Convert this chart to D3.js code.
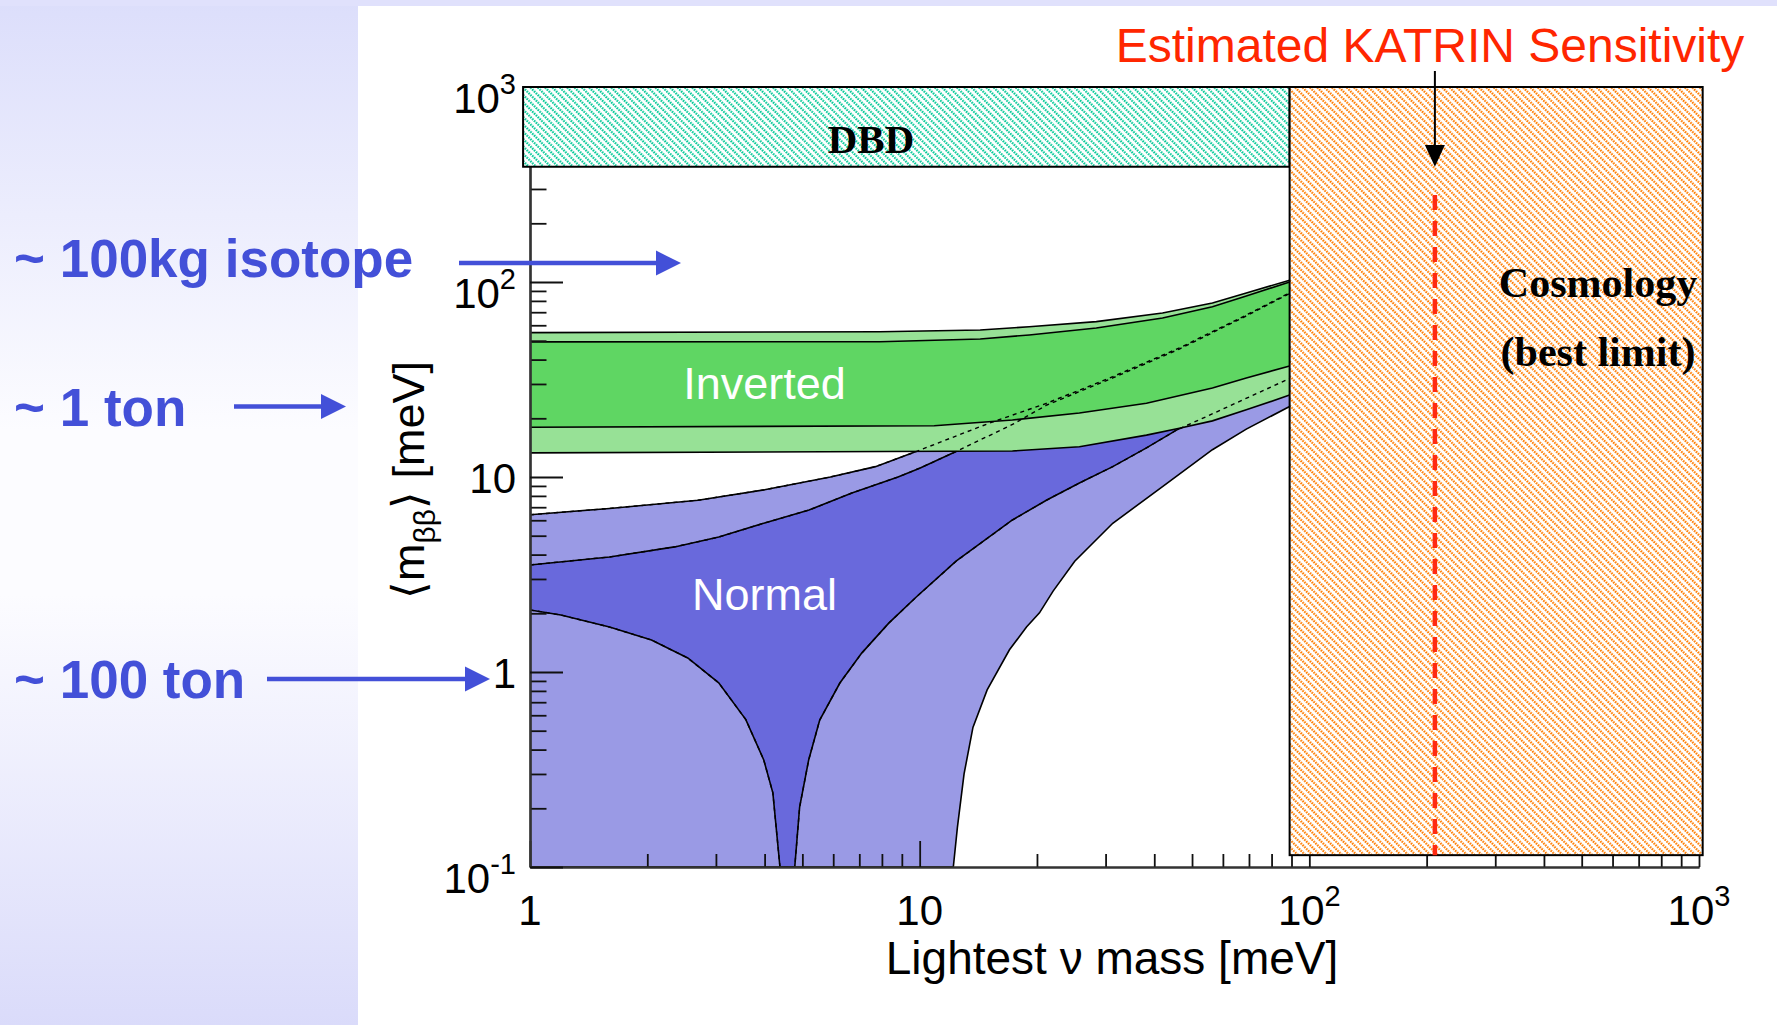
<!DOCTYPE html>
<html>
<head>
<meta charset="utf-8">
<script src="https://cdn.jsdelivr.net/npm/d3@7"></script>
<style>
  html, body { margin: 0; padding: 0; background: #fff; }
  svg { display: block; }
</style>
</head>
<body>
<svg></svg>
<script>
// ---- data (meV) ----
// inverted hierarchy band edges [lightest mass, m_bb]
const invOuterTop = [[1,55],[7.9,55.6],[14.3,56.7],[19.1,59],[28.4,62.6],[42,69.3],[56.4,78],[68.9,87.9],[89,102]];
const invInnerTop = [[1,49.3],[7.9,49.4],[14.3,51],[19.1,53.5],[28.4,58.1],[42,65.4],[56.4,74.7],[68.9,84.8],[89,100]];
const invInnerLow = [[1,18],[10.9,18.3],[17.3,19.6],[25.7,21.3],[38.2,23.9],[56.4,28.6],[68.9,32.2],[89,37.1]];
const invOuterLow = [[1,13.3],[17.3,13.6],[25.7,14.3],[38.2,16.4],[46.4,17.8],[56.4,19.4],[68.9,22.1],[89,26.3]];

// normal hierarchy band edges
const norOuterTop = [[1,6.4],[1.6,6.9],[2.7,7.6],[4,8.6],[5.9,10],[7.7,11.3],[9.6,13.3],[15.1,18.9],[21.2,23.9],[31.3,32.7],[46.4,45.9],[68.9,67.7],[89,88]];
const norInnerTop = [[1,3.54],[1.6,3.89],[2.35,4.38],[3.05,4.92],[4,5.81],[5.2,6.77],[6.7,8.28],[8.8,10],[10,11.1],[12.2,13.3],[17.3,18.6],[21.2,23.4],[31.3,32.2],[46.4,45.3],[68.9,67],[89,87.3]];
const norInnerLow = [[1,2.08],[1.2,1.96],[1.6,1.7],[2.05,1.46],[2.54,1.18],[3.05,0.88],[3.58,0.57],[3.98,0.354],[4.2,0.24],[4.38,0.1],
  [4.78,0.1],[4.92,0.203],[5.19,0.354],[5.54,0.567],[6.24,0.878],[7.1,1.25],[8.33,1.78],[9.77,2.41],[12.4,3.7],
  [17.3,6.02],[21.2,7.62],[25.7,9.31],[31.3,11.3],[38.2,14.1],[45.6,17.4],[54.4,20.4],[89,32]];
const norOuterLow = [[1,0.1],[12.2,0.1],[12.5,0.16],[13,0.3],[13.7,0.52],[14.9,0.81],[17,1.3],[18.8,1.7],[20.3,2.01],[22,2.6],[25,3.7],[31.3,5.79],[42,8.92],[56.4,13.8],[68.9,17.6],[89,23]];

// excluded regions and limits
const dbdX = [0.96, 89];
const dbdY = [390, 1000];
const cosmoX = [89, 1022];
const cosmoY = [0.115, 1000];
const katrinLimit = 210;

// axis ticks
const xMajor = [1, 10, 100, 1000];
const xMajorLabels = [['1',''],['10',''],['10','2'],['10','3']];
const yMajor = [0.1, 1, 10, 100, 1000];
const yMajorLabels = [['10','-1'],['1',''],['10',''],['10','2'],['10','3']];

// exposure annotations
const reachLabels = ['~ 100kg isotope', '~ 1 ton', '~ 100 ton'];
const reachValues = [125, 23, 0.92];

const W = 1777, H = 1025;
const sans = '"Liberation Sans", Arial, Helvetica, sans-serif';
const serif = '"Liberation Serif", "Times New Roman", serif';
const blueText = '#4350d8';

const svg = d3.select('svg').attr('width', W).attr('height', H);
const defs = svg.append('defs');

// left panel gradient
const grad = defs.append('linearGradient').attr('id', 'leftGrad')
  .attr('x1', 0).attr('y1', 0).attr('x2', 0).attr('y2', 1);
grad.append('stop').attr('offset', 0).attr('stop-color', '#dcdefb');
grad.append('stop').attr('offset', 0.42).attr('stop-color', '#fcfcff');
grad.append('stop').attr('offset', 0.58).attr('stop-color', '#fcfcff');
grad.append('stop').attr('offset', 1).attr('stop-color', '#dadbfa');

function hatch(id, color) {
  const p = defs.append('pattern').attr('id', id)
    .attr('patternUnits', 'userSpaceOnUse')
    .attr('width', 5.2).attr('height', 5.2)
    .attr('patternTransform', 'rotate(-45)');
  p.append('rect').attr('width', 5.2).attr('height', 5.2).attr('fill', '#fff');
  p.append('line').attr('x1', 1.2).attr('y1', 0).attr('x2', 1.2).attr('y2', 5.2)
    .attr('stroke', color).attr('stroke-width', 2.1).attr('stroke-dasharray', '1.8 0.8');
}
hatch('hatchTeal', '#05c997');
hatch('hatchOrange', '#ff7d00');

// scales
const x = d3.scaleLog().domain([1, 1000]).range([530, 1699]);
const y = d3.scaleLog().domain([0.1, 1000]).range([867, 87]);

defs.append('clipPath').attr('id', 'plotClip').append('rect')
  .attr('x', x(1)).attr('y', y(1000))
  .attr('width', x(1000) - x(1)).attr('height', y(0.1) - y(1000));

// backgrounds
svg.append('rect').attr('width', W).attr('height', H).attr('fill', '#fff');
svg.append('rect').attr('width', 358).attr('height', H).attr('fill', 'url(#leftGrad)');
svg.append('rect').attr('width', W).attr('height', 6).attr('fill', '#e0e1fc');

const plot = svg.append('g').attr('clip-path', 'url(#plotClip)');
const line = d3.line().x(d => x(d[0])).y(d => y(d[1]));

function band(upper, lower, fill) {
  plot.append('path')
    .attr('d', line(upper.concat(lower.slice().reverse())) + 'Z')
    .attr('fill', fill);
}
function edge(pts, dashed) {
  plot.append('path').attr('d', line(pts))
    .attr('fill', 'none').attr('stroke', '#000')
    .attr('stroke-width', dashed ? 1.4 : 1.6)
    .attr('stroke-dasharray', dashed ? '4 4' : null);
}

// normal hierarchy
band(norOuterTop, norOuterLow, '#9a9ae5');
band(norInnerTop, norInnerLow, '#6969dc');
[norOuterTop, norInnerTop, norInnerLow, norOuterLow].forEach(c => edge(c, false));

// inverted hierarchy
band(invOuterTop, invOuterLow, '#97e196');
band(invInnerTop, invInnerLow, '#5fd663');
[invOuterTop, invInnerTop, invInnerLow, invOuterLow].forEach(c => edge(c, false));

// normal edges seen through the inverted band
[norOuterTop, norInnerTop, norInnerLow].forEach(c => edge(c, true));

// axes
function minorTicks(lo, hi) {
  const t = [];
  for (let e = lo; e < hi; e++)
    for (let d = 2; d <= 9; d++) t.push(d * Math.pow(10, e));
  return t;
}
function styleAxis(g) {
  g.select('.domain').attr('stroke', '#333').attr('stroke-width', 2.2);
  g.selectAll('.tick line').attr('stroke', '#111').attr('stroke-width', 1.8);
}

const gx = svg.append('g').attr('transform', `translate(0,${y(0.1)})`);
gx.append('g').call(d3.axisBottom(x).tickValues(minorTicks(0, 3)).tickSize(-13).tickSizeOuter(0).tickFormat(''))
  .call(styleAxis);
gx.append('g').call(d3.axisBottom(x).tickValues(xMajor).tickSize(-26).tickSizeOuter(0).tickFormat(''))
  .call(styleAxis);

const gy = svg.append('g').attr('transform', `translate(${x(1)},0)`);
gy.append('g').call(d3.axisLeft(y).tickValues(minorTicks(-1, 3)).tickSize(-16.5).tickSizeOuter(0).tickFormat(''))
  .call(styleAxis);
gy.append('g').call(d3.axisLeft(y).tickValues(yMajor).tickSize(-33).tickSizeOuter(0).tickFormat(''))
  .call(styleAxis);

// tick labels
xMajor.forEach((v, i) => {
  const t = svg.append('text').attr('x', x(v)).attr('y', 925)
    .attr('text-anchor', 'middle').style('font-family', sans).style('font-size', '42px');
  t.append('tspan').text(xMajorLabels[i][0]);
  if (xMajorLabels[i][1]) t.append('tspan').attr('dy', -19).style('font-size', '29px').text(xMajorLabels[i][1]);
});
yMajor.forEach((v, i) => {
  const sup = yMajorLabels[i][1];
  const t = svg.append('text').attr('x', 516).attr('y', y(v) + (sup ? 26 : 16))
    .attr('text-anchor', 'end').style('font-family', sans).style('font-size', '42px');
  t.append('tspan').text(yMajorLabels[i][0]);
  if (sup) t.append('tspan').attr('dy', -19).style('font-size', '29px').text(sup);
});

// axis titles
svg.append('text').attr('x', 1112).attr('y', 974).attr('text-anchor', 'middle')
  .style('font-family', sans).style('font-size', '46px').text('Lightest \u03bd mass [meV]');
const yl = svg.append('text').attr('transform', 'translate(424,480) rotate(-90)')
  .attr('text-anchor', 'middle').style('font-family', sans).style('font-size', '45px');
yl.append('tspan').text('\u27e8m');
yl.append('tspan').attr('dy', 11).style('font-size', '30px').text('\u03b2\u03b2');
yl.append('tspan').attr('dy', -11).text('\u27e9 [meV]');

// DBD excluded box
svg.append('rect')
  .attr('x', x(dbdX[0])).attr('y', y(dbdY[1]))
  .attr('width', x(dbdX[1]) - x(dbdX[0])).attr('height', y(dbdY[0]) - y(dbdY[1]))
  .attr('fill', 'url(#hatchTeal)').attr('stroke', '#000').attr('stroke-width', 2);
svg.append('text').attr('x', 871).attr('y', 153).attr('text-anchor', 'middle')
  .style('font-family', serif).style('font-weight', 'bold').style('font-size', '41px').text('DBD');

// cosmology excluded box
svg.append('rect')
  .attr('x', x(cosmoX[0])).attr('y', y(cosmoY[1]))
  .attr('width', x(cosmoX[1]) - x(cosmoX[0])).attr('height', y(cosmoY[0]) - y(cosmoY[1]))
  .attr('fill', 'url(#hatchOrange)').attr('stroke', '#000').attr('stroke-width', 2);
svg.append('text').attr('x', 1598).attr('y', 297).attr('text-anchor', 'middle')
  .style('font-family', serif).style('font-weight', 'bold').style('font-size', '42px').text('Cosmology');
svg.append('text').attr('x', 1598).attr('y', 366).attr('text-anchor', 'middle')
  .style('font-family', serif).style('font-weight', 'bold').style('font-size', '42px').text('(best limit)');

// KATRIN sensitivity
const kx = x(katrinLimit);
svg.append('line').attr('x1', kx).attr('x2', kx).attr('y1', 195).attr('y2', y(cosmoY[0]))
  .attr('stroke', '#ff2a12').attr('stroke-width', 4.5).attr('stroke-dasharray', '15 11');
svg.append('line').attr('x1', kx).attr('x2', kx).attr('y1', 71).attr('y2', 150)
  .attr('stroke', '#000').attr('stroke-width', 2);
svg.append('path').attr('d', `M${kx - 10},${145}L${kx + 10},${145}L${kx},${y(dbdY[0])}Z`).attr('fill', '#000');
svg.append('text').attr('x', 1430).attr('y', 62).attr('text-anchor', 'middle')
  .style('font-family', sans).style('font-size', '48px').attr('fill', '#ff2600')
  .text('Estimated KATRIN Sensitivity');

// hierarchy labels
svg.append('text').attr('x', x(4)).attr('y', 399).attr('text-anchor', 'middle')
  .style('font-family', sans).style('font-size', '45px').attr('fill', '#fff').text('Inverted');
svg.append('text').attr('x', x(4)).attr('y', 610).attr('text-anchor', 'middle')
  .style('font-family', sans).style('font-size', '45px').attr('fill', '#fff').text('Normal');

// exposure annotations with arrows
const arrowX = [[459, 681], [234, 346], [267, 490]];
const labelDy = [14, 20, 19];
reachLabels.forEach((lab, i) => {
  const ay = y(reachValues[i]);
  svg.append('text').attr('x', 14).attr('y', ay + labelDy[i])
    .style('font-family', sans).style('font-weight', 'bold').style('font-size', '53px')
    .attr('fill', blueText).text(lab);
  const [x0, x1] = arrowX[i];
  svg.append('line').attr('x1', x0).attr('x2', x1 - 22).attr('y1', ay).attr('y2', ay)
    .attr('stroke', blueText).attr('stroke-width', 4.5);
  svg.append('path').attr('d', `M${x1 - 25},${ay - 12.5}L${x1},${ay}L${x1 - 25},${ay + 12.5}Z`)
    .attr('fill', blueText);
});
</script>
</body>
</html>
